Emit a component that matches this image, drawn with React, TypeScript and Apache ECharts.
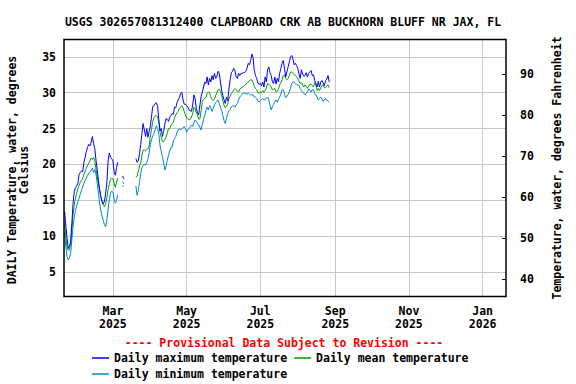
import React, { useEffect, useRef } from 'react';
import * as echarts from 'echarts';

// ---------- data ----------
const START_DATE = '2025-01-20'; // first day of the daily series
const X_MIN = Date.UTC(2025, 0, 19, 12);
const X_MAX = Date.UTC(2026, 0, 20, 8);

const tickDates = ['2025-03-01', '2025-05-01', '2025-07-01', '2025-09-01', '2025-11-01', '2026-01-01'];
const tickLabels = ['Mar\n2025', 'May\n2025', 'Jul\n2025', 'Sep\n2025', 'Nov\n2025', 'Jan\n2026'];
const celsiusTicks = [5, 10, 15, 20, 25, 30, 35];
const fahrenheitTicks = [40, 50, 60, 70, 80, 90];

const N = null;

const maxTemp = [
  13.5, 11.5, 9.8, 8.3, 8.6, 9.2, 11.8, 14.6, 16.2, 16.8,
  17.0, 17.4, 18.6, 18.9, 19.1, 19.0, 20.3, 21.0, 21.8, 22.4,
  22.8, 22.6, 23.1, 23.9, 22.9, 22.2, 20.6, 19.3, 17.8, 16.5,
  15.5, 14.9, 14.5, 14.9, 16.0, 17.5, 20.5, 21.6, 21.0, 20.8,
  20.5, 19.0, 18.5, 19.6, 20.3,
  N, N, N, 18.4, 18.0, N, N, N, N, N, N, N, N, N,
  20.8, 20.3, 20.5, 21.5, 22.8, 24.3, 25.7, 24.8, 23.9, 25.0,
  23.8, 24.6, 25.4, 26.8, 28.1, 28.2, 28.5, 28.6, 28.1, 26.2,
  24.7, 25.0, 23.9, 24.6, 25.7, 26.4, 26.3, 26.0, 26.6, 26.8,
  27.1, 27.0, 28.0, 27.9, 28.6, 29.0, 29.3, 29.9, 30.1, 29.0,
  28.4, 28.4, 28.2, 28.0,
  27.6, 27.5, 27.4, 28.3, 29.7, 29.2, 27.8, 27.2, 26.9, 28.3,
  29.5, 30.1, 30.8, 31.5, 31.3, 32.2, 31.1, 32.0, 31.5, 32.4,
  31.8, 32.7, 32.0, 32.2, 33.0, 32.7, 31.5, 30.3, 29.6, 29.0,
  28.5, 29.4, 28.9, 30.5, 31.8, 32.8, 33.0, 33.4, 33.1, 32.2,
  32.0, 32.7, 32.4, 32.7, 32.7, 32.8, 32.8, 33.0, 33.4, 34.1,
  33.9, 34.5, 35.4, 34.9, 33.1, 32.4, 32.0, 31.3, 31.2, 31.3,
  31.0, 31.5, 30.8, 32.2, 31.5, 33.2, 33.6, 32.8, 32.4, 31.5,
  31.3, 32.2, 31.2, 32.0, 31.5, 32.7, 33.4, 34.1, 34.5, 33.4,
  32.2, 32.9, 33.6, 34.3, 35.0, 35.2, 34.7, 33.9, 34.1, 33.8,
  33.4, 32.6, 32.0, 33.2, 32.6, 32.3, 32.4, 32.8, 32.2, 32.7,
  32.9, 33.1, 32.4, 32.5, 31.7, 31.3, 30.8, 31.6, 30.8, 31.5,
  31.7, 31.4, 31.0, 31.7, 31.9, 32.4, 31.5,
];

const meanTemp = [
  11.8, 10.0, 8.5, 8.0, 8.1, 9.0, 11.0, 13.0, 14.4, 15.3,
  16.0, 16.6, 17.1, 17.5, 17.8, 18.1, 18.6, 19.1, 19.5, 19.9,
  20.2, 20.5, 20.9, 20.7, 21.0, 20.5, 19.3, 18.3, 17.3, 16.4,
  15.5, 14.8, 14.3, 14.1, 14.6, 15.4, 16.5, 17.3, 17.9, 18.1,
  18.0, 17.4, 16.8, 17.5, 18.1,
  N, N, N, 17.6, 17.3, N, N, N, N, N, N, N, N, N,
  18.2, 18.4, 19.0, 19.8, 20.2, 21.3, 22.0, 22.0, 21.9, 22.1,
  22.2, 22.6, 24.0, 25.0, 26.0, 26.5, 26.8, 26.8, 26.7, 25.8,
  24.5, 23.7, 23.2, 23.2, 23.5, 23.8, 24.4, 25.0, 25.0, 25.4,
  25.7, 25.9, 26.5, 26.9, 27.2, 27.4, 27.8, 28.0, 28.2, 27.9,
  27.4, 26.9, 26.5, 26.4,
  26.2, 26.3, 26.6, 27.1, 28.0, 27.8, 27.2, 26.9, 26.3, 26.4,
  27.5, 28.8, 29.1, 29.2, 29.4, 29.9, 30.1, 30.0, 29.4, 29.1,
  28.9, 29.1, 29.6, 30.0, 30.4, 30.5, 30.2, 29.6, 28.9, 28.2,
  27.9, 28.1, 28.4, 29.2, 29.5, 29.9, 30.1, 30.4, 30.6, 30.4,
  30.2, 30.1, 30.5, 30.6, 30.8, 30.9, 31.0, 31.2, 31.3, 31.5,
  31.7, 31.8, 31.8, 31.4, 30.9, 30.6, 30.4, 30.0, 29.9, 30.1,
  30.0, 30.3, 30.1, 30.3, 30.7, 31.3, 31.2, 31.0, 30.8, 30.4,
  30.5, 30.6, 30.1, 30.2, 30.5, 31.1, 31.4, 31.8, 32.4, 32.5,
  32.0, 31.8, 32.0, 32.4, 32.9, 32.9, 32.7, 32.5, 32.4, 32.3,
  32.0, 31.6, 31.3, 31.4, 31.1, 30.8, 31.1, 30.9, 30.6, 30.9,
  31.2, 31.2, 31.0, 30.8, 31.4, 31.1, 30.3, 30.6, 30.3, 30.7,
  31.0, 31.1, 30.7, 30.7, 30.9, 31.1, 30.7,
];

const minTemp = [
  10.5, 8.5, 7.2, 6.7, 7.0, 7.6, 9.5, 11.3, 12.6, 13.6,
  14.2, 14.8, 15.3, 15.9, 16.4, 16.9, 17.4, 17.8, 18.1, 18.5,
  18.8, 18.9, 19.2, 19.5, 18.9, 19.3, 18.6, 17.4, 16.0, 14.6,
  13.5, 12.8, 12.2, 11.6, 11.3, 12.3, 13.8, 15.1, 16.0, 16.3,
  16.1, 15.2, 14.6, 15.0, 15.8,
  N, N, N, 17.1, 16.9, N, N, N, N, N, N, N, N, N,
  17.0, 15.7, 16.4, 17.5, 18.7, 19.6, 19.9, 20.0, 19.9, 20.3,
  20.8, 21.6, 22.8, 23.5, 24.0, 24.3, 24.9, 25.4, 25.0, 24.2,
  22.6, 21.8, 21.1, 20.2, 19.2, 19.8, 20.6, 21.3, 21.9, 22.4,
  22.4, 23.3, 23.6, 23.9, 24.5, 24.8, 25.0, 24.8, 25.0, 25.1,
  25.3, 25.0, 24.5, 24.8,
  25.0, 25.3, 25.5, 25.3, 25.8, 26.2, 26.0, 25.7, 25.5, 25.2,
  24.8, 25.6, 26.3, 26.9, 27.5, 28.0, 27.6, 28.2, 27.9, 27.4,
  27.8, 28.3, 28.6, 28.8, 29.0, 28.5, 28.0, 27.5, 26.8, 26.1,
  25.7, 26.5, 27.1, 27.5, 27.7, 28.0, 28.2, 28.2, 28.0, 28.3,
  28.5, 29.0, 29.4, 29.6, 29.8, 30.0, 29.9, 29.9, 29.8, 29.9,
  29.8, 29.7, 29.7, 29.7, 29.4, 29.4, 29.2, 28.8, 28.7, 28.9,
  29.0, 29.2, 29.0, 29.1, 29.2, 29.4, 29.0, 28.2, 27.6, 28.1,
  28.4, 28.7, 29.0, 28.7, 29.1, 29.4, 29.8, 30.4, 30.4, 29.9,
  29.3, 29.5, 29.8, 30.1, 30.6, 31.3, 31.5, 31.5, 31.3, 31.1,
  31.1, 31.0, 30.6, 30.3, 30.1, 29.9, 29.7, 29.9, 30.2, 30.5,
  30.4, 30.1, 30.4, 30.4, 29.9, 29.7, 29.4, 29.0, 29.2, 29.4,
  29.1, 28.8, 29.0, 29.2, 29.0, 28.9, 28.7,
];

const seriesNames = ['Daily maximum temperature', 'Daily mean temperature', 'Daily minimum temperature'];
const seriesColors = ['#0000ff', '#00a000', '#0088d0'];

const titleText = 'USGS 302657081312400 CLAPBOARD CRK AB BUCKHORN BLUFF NR JAX, FL';
const provisionalText = '---- Provisional Data Subject to Revision ----';
const leftTitle1 = 'DAILY Temperature, water, degrees';
const leftTitle2 = 'Celsius';
const rightTitle = 'Temperature, water, degrees Fahrenheit';

// ---------- helpers ----------
const DAY_MS = 86400000;
const startMs = Date.parse(START_DATE);
const toPairs = (arr: (number | null)[]) => arr.map((v, i) => [startMs + i * DAY_MS, v]);
const tickTimes = tickDates.map((d) => Date.parse(d));

const FONT = 'DejaVu Sans Mono';
const baseText = { fontFamily: FONT, fontWeight: 'bold' as const, fontSize: 11.5, color: '#000' };
const gFont = `bold 11.5px "${FONT}"`;

export default function App() {
  const ref = useRef<HTMLDivElement>(null);

  useEffect(() => {
    document.body.style.margin = '0';
    if (!ref.current) return;
    const chart = echarts.init(ref.current, null, { renderer: 'svg' });

    const option: any = {
      animation: false,
      backgroundColor: '#fff',
      grid: { left: 64, top: 39.5, width: 442, height: 257, containLabel: false },
      xAxis: {
        type: 'value',
        min: X_MIN,
        max: X_MAX,
        axisLine: { show: false },
        axisTick: { show: false, customValues: tickTimes },
        axisLabel: {
          customValues: tickTimes,
          formatter: (v: number) => {
            const idx = tickTimes.indexOf(v);
            return idx >= 0 ? tickLabels[idx] : '';
          },
          margin: 8,
          lineHeight: 13,
          hideOverlap: false,
          ...baseText,
        },
        splitLine: { show: true, lineStyle: { color: '#c8c8c8', width: 1 } },
      },
      yAxis: [
        {
          type: 'value',
          position: 'left',
          min: 1.6,
          max: 37.42,
          axisLine: { show: false },
          axisTick: { show: false, customValues: celsiusTicks },
          axisLabel: { customValues: celsiusTicks, margin: 8, ...baseText },
          splitLine: { show: true, lineStyle: { color: '#c8c8c8', width: 1 } },
        },
        {
          type: 'value',
          position: 'right',
          min: 35.68,
          max: 98.55,
          axisLine: { show: false },
          axisTick: {
            show: true,
            inside: true,
            length: 4,
            customValues: fahrenheitTicks,
            lineStyle: { color: '#000', width: 1 },
          },
          axisLabel: { customValues: fahrenheitTicks, margin: 14, ...baseText },
          splitLine: { show: false },
        },
      ],
      legend: [
        {
          data: [seriesNames[0], seriesNames[1]],
          left: 87,
          top: 347,
          icon: 'rect',
          itemWidth: 17,
          itemHeight: 1.5,
          itemGap: 7,
          selectedMode: false,
          textStyle: { ...baseText },
        },
        {
          data: [seriesNames[2]],
          left: 87,
          top: 363,
          icon: 'rect',
          itemWidth: 17,
          itemHeight: 1.5,
          selectedMode: false,
          textStyle: { ...baseText },
        },
      ],
      series: [maxTemp, meanTemp, minTemp].map((arr, i) => ({
        name: seriesNames[i],
        type: 'line',
        yAxisIndex: 0,
        data: toPairs(arr),
        showSymbol: false,
        symbol: 'none',
        connectNulls: false,
        lineStyle: { color: seriesColors[i], width: 1 },
        itemStyle: { color: seriesColors[i] },
        z: 3 - i,
      })),
      graphic: [
        {
          type: 'rect',
          shape: { x: 64, y: 39.5, width: 442, height: 257 },
          style: { fill: 'none', stroke: '#000', lineWidth: 1.5 },
          z: 100,
          silent: true,
        },
        {
          type: 'text',
          x: 283,
          y: 21.5,
          style: { text: titleText, font: gFont, fill: '#000', textAlign: 'center', textVerticalAlign: 'middle' },
        },
        {
          type: 'text',
          x: 284,
          y: 342.7,
          style: { text: provisionalText, font: gFont, fill: '#ff0000', textAlign: 'center', textVerticalAlign: 'middle' },
        },
        {
          type: 'text',
          x: 11.7,
          y: 170,
          rotation: Math.PI / 2,
          style: { text: leftTitle1, font: gFont, fill: '#000', textAlign: 'center', textVerticalAlign: 'middle' },
        },
        {
          type: 'text',
          x: 24,
          y: 170,
          rotation: Math.PI / 2,
          style: { text: leftTitle2, font: gFont, fill: '#000', textAlign: 'center', textVerticalAlign: 'middle' },
        },
        {
          type: 'text',
          x: 556.7,
          y: 168,
          rotation: Math.PI / 2,
          style: { text: rightTitle, font: gFont, fill: '#000', textAlign: 'center', textVerticalAlign: 'middle' },
        },
      ],
    };

    chart.setOption(option);
    return () => chart.dispose();
  }, []);

  return <div ref={ref} style={{ width: 576, height: 384 }} />;
}
